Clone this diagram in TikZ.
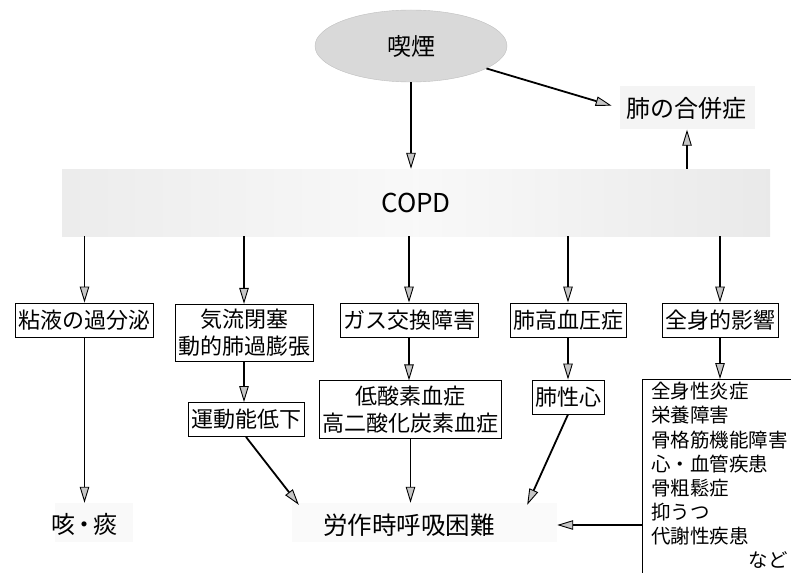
\documentclass[tikz,border=0pt]{standalone}
\usepackage{fontspec}
\setmainfont{Noto Sans CJK JP}
\usetikzlibrary{arrows.meta,calc,shapes.geometric}
\begin{document}
\begin{tikzpicture}[x=1pt,y=-1pt,
 box/.style={draw=black,line width=0.9pt,fill=white,inner xsep=3pt,inner ysep=5pt,font=\fontsize{22}{27}\selectfont,align=center},
 onebox/.style={box,minimum height=34pt},
 arr/.style={line width=1.8pt,-{Triangle[length=16pt,width=9.5pt,fill=gray!45,line width=0.9pt]}},
 stip/.style={draw=none,inner sep=0pt},
 plain/.style={font=\fontsize{24}{28}\selectfont,inner sep=0pt},
]
\useasboundingbox (0,0) rectangle (791,572);
\clip (0,0) rectangle (791,572);

% top
\node[ellipse, fill=gray!30, draw=gray!50, line width=0.4pt, minimum width=192pt, minimum height=72pt, font=\fontsize{24}{28}\selectfont] (smoke) at (411,46) {喫煙};
\node[stip, fill=gray!9, minimum width=135pt, minimum height=43pt] (compbg) at (687,108) {};
\node[plain] (comp) at (686,108) {肺の合併症};

% COPD band
\node[draw=none, left color=gray!15, right color=gray!17, middle color=gray!5, minimum width=708pt, minimum height=67pt, font=\fontsize{26}{30}\selectfont] (copd) at (416,202.5) {COPD};

% first row
\node[onebox] (mucus) at (84.5,320) {粘液の過分泌};
\node[box] (airflow) at (244,333) {気流閉塞\\動的肺過膨張};
\node[onebox] (gas) at (409,320) {ガス交換障害};
\node[onebox] (ph) at (568,320) {肺高血圧症};
\node[onebox] (sys) at (720,320) {全身的影響};

% second row
\node[onebox] (exer) at (246,419.5) {運動能低下};
\node[box] (hypox) at (410.5,409.5) {低酸素血症\\高二酸化炭素血症};
\node[onebox] (corpul) at (568,397) {肺性心};

% list
\node[draw, line width=0.9pt, anchor=north west, minimum width=200pt, minimum height=260pt] (listbox) at (642,379) {};
\node[anchor=north west, align=left, inner sep=0pt, font=\fontsize{19.5}{24.2}\selectfont] (listtext) at (651,382) {全身性炎症\\栄養障害\\骨格筋機能障害\\心・血管疾患\\骨粗鬆症\\抑うつ\\代謝性疾患};
\node[anchor=east, inner sep=0pt, font=\fontsize{19.5}{24}\selectfont] (etc) at (788,560) {など};

% bottom
\node[stip, fill=gray!5, minimum width=78pt, minimum height=39pt] (coughbg) at (94,522.5) {};
\node[plain] (cough) at (84,524) {咳\kern-3pt・\kern-3pt痰};
\node[stip, fill=gray!4, minimum width=265pt, minimum height=39pt] (dyspbg) at (424.5,522.5) {};
\node[plain, font=\fontsize{24.5}{28}\selectfont] (dysp) at (409,525) {労作時呼吸困難};

% arrows
\draw[arr, shorten >=8pt] (smoke) -- (compbg.west);
\draw[arr] (smoke.south) -- (smoke.south |- copd.north);
\draw[arr] (copd.north -| compbg) -- (compbg.south);
\draw[arr] (copd.south -| mucus) -- (mucus.north);
\draw[arr] (copd.south -| airflow) -- (airflow.north);
\draw[arr] (copd.south -| gas) -- (gas.north);
\draw[arr] (copd.south -| ph) -- (ph.north);
\draw[arr] (copd.south -| sys) -- (sys.north);
\draw[arr] (airflow.south) -- (airflow.south |- exer.north);
\draw[arr] (gas.south) -- (gas.south |- hypox.north);
\draw[arr] (ph.south) -- (corpul.north);
\draw[arr] (sys.south) -- (sys.south |- listbox.north);
\draw[arr] (mucus.south) -- (mucus.south |- coughbg.north);
\draw[arr] (exer.south) -- ($(dyspbg.north west)+(7,2)$);
\draw[arr] (hypox.south) -- (hypox.south |- dyspbg.north);
\draw[arr] (corpul.south) -- ($(dyspbg.north east)+(-30,2)$);
\draw[arr] (listbox.west |- dysp) -- (dyspbg.east |- dysp);
\end{tikzpicture}
\end{document}
